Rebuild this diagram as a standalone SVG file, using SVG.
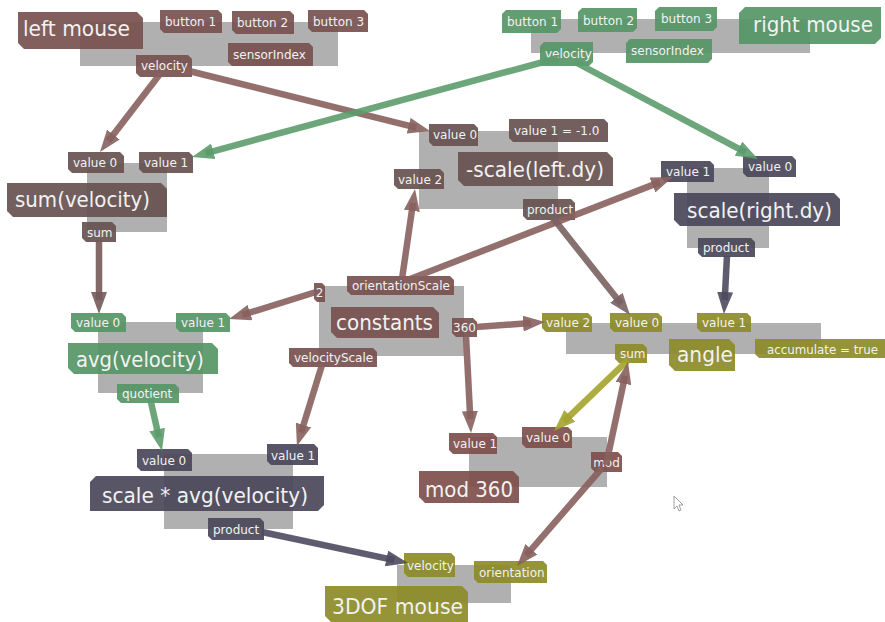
<svg xmlns="http://www.w3.org/2000/svg" width="885" height="622" viewBox="0 0 885 622">
<style>
.bg{fill:#b0b0b0}
.br{fill:#77504e;fill-opacity:.92}
.db{fill:#665150;fill-opacity:.92}
.md{fill:#7d4e4b;fill-opacity:.92}
.gr{fill:#569566;fill-opacity:.92}
.sl{fill:#4a4859;fill-opacity:.92}
.ol{fill:#8c8b28;fill-opacity:.92}
text{font-family:"DejaVu Sans","Liberation Sans",sans-serif;fill:#f2f2f2}
.s{font-size:12px}
.t{font-size:21px}
.c{fill:none;stroke-width:6.5;stroke-opacity:.9}
.cb{stroke:#87605d;marker-end:url(#ab)}
.cg{stroke:#5c9c6c;marker-end:url(#ag)}
.cs{stroke:#4c4a5e;marker-end:url(#as)}
.co{stroke:#a3a32c;marker-end:url(#ao)}
.cd{stroke:#735a58;marker-end:url(#ad)}
.cp{stroke:#7a6160;marker-end:url(#ap)}
</style>
<defs>
<marker id="ab" markerUnits="userSpaceOnUse" markerWidth="22" markerHeight="16" refX="8" refY="8" orient="auto"><path d="M0,0L22,8L0,16z" fill="#87605d" fill-opacity=".9"/></marker>
<marker id="ag" markerUnits="userSpaceOnUse" markerWidth="22" markerHeight="16" refX="8" refY="8" orient="auto"><path d="M0,0L22,8L0,16z" fill="#5c9c6c" fill-opacity=".9"/></marker>
<marker id="as" markerUnits="userSpaceOnUse" markerWidth="22" markerHeight="16" refX="8" refY="8" orient="auto"><path d="M0,0L22,8L0,16z" fill="#4c4a5e" fill-opacity=".9"/></marker>
<marker id="ao" markerUnits="userSpaceOnUse" markerWidth="22" markerHeight="16" refX="8" refY="8" orient="auto"><path d="M0,0L22,8L0,16z" fill="#a3a32c" fill-opacity=".9"/></marker>
<marker id="ad" markerUnits="userSpaceOnUse" markerWidth="22" markerHeight="16" refX="8" refY="8" orient="auto"><path d="M0,0L22,8L0,16z" fill="#735a58" fill-opacity=".9"/></marker>
<marker id="ap" markerUnits="userSpaceOnUse" markerWidth="22" markerHeight="16" refX="8" refY="8" orient="auto"><path d="M0,0L22,8L0,16z" fill="#7a6160" fill-opacity=".9"/></marker>
</defs>
<rect width="885" height="622" fill="#fff"/>

<g id="left-mouse">
<rect class="bg" x="80" y="22" width="258" height="44"/>
<path class="br" d="M18,12h119l6,6v31h-119l-6,-6z"/>
<text class="t" x="23" y="36" textLength="107" lengthAdjust="spacingAndGlyphs">left mouse</text>
<path class="br" d="M160,10h58l4,4v19h-58l-4,-4z"/><text class="s" x="165" y="26">button 1</text>
<path class="br" d="M232,11h58l4,4v19h-58l-4,-4z"/><text class="s" x="237" y="27">button 2</text>
<path class="br" d="M308,10h56l4,4v18h-56l-4,-4z"/><text class="s" x="313" y="26">button 3</text>
<path class="br" d="M228,43h81l4,4v19h-81l-4,-4z"/><text class="s" x="233" y="59">sensorIndex</text>
<path class="br" d="M136,55h52l4,4v18h-52l-4,-4z"/><text class="s" x="141" y="70">velocity</text>
</g>

<g id="right-mouse">
<rect class="bg" x="531" y="19" width="279" height="34"/>
<path class="gr" d="M506,10h55v19l-4,4h-55v-19z"/><text class="s" x="507" y="26">button 1</text>
<path class="gr" d="M582,8h55v20l-4,4h-55v-20z"/><text class="s" x="583" y="25">button 2</text>
<path class="gr" d="M659,7h58v20l-4,4h-58v-20z"/><text class="s" x="661" y="23">button 3</text>
<path class="gr" d="M745,7h136v31l-6,6h-136v-31z"/>
<text class="t" x="753" y="32" textLength="120" lengthAdjust="spacingAndGlyphs">right mouse</text>
<path class="gr" d="M544,42h49v20l-4,4h-49v-20z"/><text class="s" x="545" y="58">velocity</text>
<path class="gr" d="M630,39h82v20l-4,4h-82v-20z"/><text class="s" x="631" y="55">sensorIndex</text>
</g>

<g id="sum-velocity">
<rect class="bg" x="87" y="163" width="80" height="69"/>
<path class="db" d="M68,152h52l4,4v17h-52l-4,-4z"/><text class="s" x="73" y="167">value 0</text>
<path class="db" d="M139,152h50l4,4v17h-50l-4,-4z"/><text class="s" x="144" y="167">value 1</text>
<path class="db" d="M7,183h154l6,6v28h-154l-6,-6z"/>
<text class="t" x="15" y="207" textLength="135" lengthAdjust="spacingAndGlyphs">sum(velocity)</text>
<path class="db" d="M82,222h30l4,4v16h-30l-4,-4z"/><text class="s" x="87" y="237">sum</text>
</g>

<g id="neg-scale-left">
<rect class="bg" x="419" y="131" width="139" height="78"/>
<path class="db" d="M429,124h45l4,4v18h-45l-4,-4z"/><text class="s" x="433" y="139">value 0</text>
<path class="db" d="M509,119h95l4,4v19h-95l-4,-4z"/><text class="s" x="514" y="135">value 1 = -1.0</text>
<path class="db" d="M458,152h149l6,6v28h-149l-6,-6z"/>
<text class="t" x="466" y="177" textLength="138" lengthAdjust="spacingAndGlyphs">-scale(left.dy)</text>
<path class="db" d="M394,169h46l4,4v16h-46l-4,-4z"/><text class="s" x="398" y="184">value 2</text>
<path class="db" d="M523,199h48l4,4v17h-48l-4,-4z"/><text class="s" x="527" y="214">product</text>
</g>

<g id="scale-right">
<rect class="bg" x="687" y="168" width="82" height="80"/>
<path class="sl" d="M661,161h49l4,4v17h-49l-4,-4z"/><text class="s" x="666" y="176">value 1</text>
<path class="sl" d="M743,156h49l4,4v17h-49l-4,-4z"/><text class="s" x="748" y="171">value 0</text>
<path class="sl" d="M674,193h160l6,6v27h-160l-6,-6z"/>
<text class="t" x="687" y="218" textLength="145" lengthAdjust="spacingAndGlyphs">scale(right.dy)</text>
<path class="sl" d="M698,238h53l4,4v15h-53l-4,-4z"/><text class="s" x="703" y="252">product</text>
</g>

<g id="avg-velocity">
<rect class="bg" x="98" y="322" width="105" height="71"/>
<path class="gr" d="M71,313h51l4,4v15h-51l-4,-4z"/><text class="s" x="76" y="327">value 0</text>
<path class="gr" d="M176,313h50l4,4v15h-50l-4,-4z"/><text class="s" x="181" y="327">value 1</text>
<path class="gr" d="M68,343h144l6,6v25h-144l-6,-6z"/>
<text class="t" x="76" y="367" textLength="128" lengthAdjust="spacingAndGlyphs">avg(velocity)</text>
<path class="gr" d="M117,384h58l4,4v15h-58l-4,-4z"/><text class="s" x="122" y="398">quotient</text>
</g>

<g id="constants">
<rect class="bg" x="319" y="286" width="145" height="70"/>
<path class="br" d="M347,276h103l4,4v15h-103l-4,-4z"/><text class="s" x="352" y="290">orientationScale</text>
<path class="br" d="M314,283h8l3,3v16h-8l-3,-3z"/><text class="s" x="319.5" y="297" text-anchor="middle">2</text>
<path class="br" d="M331,307h102l6,6v25h-102l-6,-6z"/>
<text class="t" x="336" y="330" textLength="97" lengthAdjust="spacingAndGlyphs">constants</text>
<path class="br" d="M452,318h21l4,4v15h-21l-4,-4z"/><text class="s" x="464.5" y="332" text-anchor="middle">360</text>
<path class="br" d="M289,348h84l4,4v15h-84l-4,-4z"/><text class="s" x="294" y="362">velocityScale</text>
</g>

<g id="angle">
<rect class="bg" x="566" y="323" width="255" height="31"/>
<path class="ol" d="M542,313h46l4,4v15h-46l-4,-4z"/><text class="s" x="546" y="327">value 2</text>
<path class="ol" d="M610,313h48l4,4v15h-48l-4,-4z"/><text class="s" x="615" y="327">value 0</text>
<path class="ol" d="M697,313h50l4,4v15h-50l-4,-4z"/><text class="s" x="702" y="327">value 1</text>
<path class="ol" d="M615,344h28l4,4v15h-28l-4,-4z"/><text class="s" x="620" y="358">sum</text>
<path class="ol" d="M669,339h60l6,6v26h-60l-6,-6z"/>
<text class="t" x="677" y="362" textLength="56" lengthAdjust="spacingAndGlyphs">angle</text>
<path class="ol" d="M755,339h130v19h-126l-4,-4z"/><text class="s" x="767" y="354" textLength="111" lengthAdjust="spacingAndGlyphs">accumulate = true</text>
</g>

<g id="scale-avg-velocity">
<rect class="bg" x="164" y="454" width="129" height="75"/>
<path class="sl" d="M137,449h51l4,4v18h-51l-4,-4z"/><text class="s" x="142" y="465">value 0</text>
<path class="sl" d="M267,444h47l4,4v17h-47l-4,-4z"/><text class="s" x="271" y="460">value 1</text>
<path class="sl" d="M96,476h228v29l-6,6h-228v-29z"/>
<text class="t" x="102" y="503" textLength="206" lengthAdjust="spacingAndGlyphs">scale * avg(velocity)</text>
<path class="sl" d="M208,518h52l4,4v18h-52l-4,-4z"/><text class="s" x="213" y="534">product</text>
</g>

<g id="mod-360">
<rect class="bg" x="469" y="437" width="138" height="50"/>
<path class="md" d="M449,433h44l4,4v17h-44l-4,-4z"/><text class="s" x="453" y="448">value 1</text>
<path class="md" d="M522,427h46l4,4v17h-46l-4,-4z"/><text class="s" x="526" y="442">value 0</text>
<path class="md" d="M591,452h27l4,4v16h-27l-4,-4z"/><text class="s" x="606.5" y="467" text-anchor="middle">mod</text>
<path class="md" d="M419,471h94l6,6v26h-94l-6,-6z"/>
<text class="t" x="425" y="497" textLength="88" lengthAdjust="spacingAndGlyphs">mod 360</text>
</g>

<g id="dof-mouse">
<rect class="bg" x="397" y="565" width="114" height="38"/>
<path class="ol" d="M404,553h47l4,4v20h-47l-4,-4z"/><text class="s" x="407" y="570">velocity</text>
<path class="ol" d="M474,561h69l4,4v18h-69l-4,-4z"/><text class="s" x="479" y="577">orientation</text>
<path class="ol" d="M325,586h137l6,6v30h-137l-6,-6z"/>
<text class="t" x="332" y="614" textLength="131" lengthAdjust="spacingAndGlyphs">3DOF mouse</text>
</g>

<g id="connectors">
<path class="c cb" d="M160,74L108.5,140.9"/>
<path class="c cb" d="M185,70L416.4,127.6"/>
<path class="c cg" d="M558,58L205.5,153.3"/>
<path class="c cg" d="M575,62L745.6,152.4"/>
<path class="c cd" d="M99,240L99,300"/>
<path class="c cb" d="M316,292L242.4,314.9"/>
<path class="c cb" d="M402,279L413,202.9"/>
<path class="c cb" d="M405,281L659.9,182.1"/>
<path class="c cp" d="M553,218L621.3,304"/>
<path class="c cs" d="M727,256L724.7,300"/>
<path class="c cb" d="M476,327L531,323"/>
<path class="c cb" d="M466,336L470.3,419"/>
<path class="c co" d="M628,360L564.1,421.3"/>
<path class="c cb" d="M606,465L625.1,375.7"/>
<path class="c cb" d="M602,468L526.2,555.4"/>
<path class="c cg" d="M150,398L158.9,437.3"/>
<path class="c cb" d="M322,365L301.1,432.6"/>
<path class="c cs" d="M262,532L394.3,560.1"/>
</g>

<path d="M674,496v13l3,-3l2,5l2,-1l-2,-5h4z" fill="#fff" stroke="#8a8a8a" stroke-width="0.8"/>
</svg>
